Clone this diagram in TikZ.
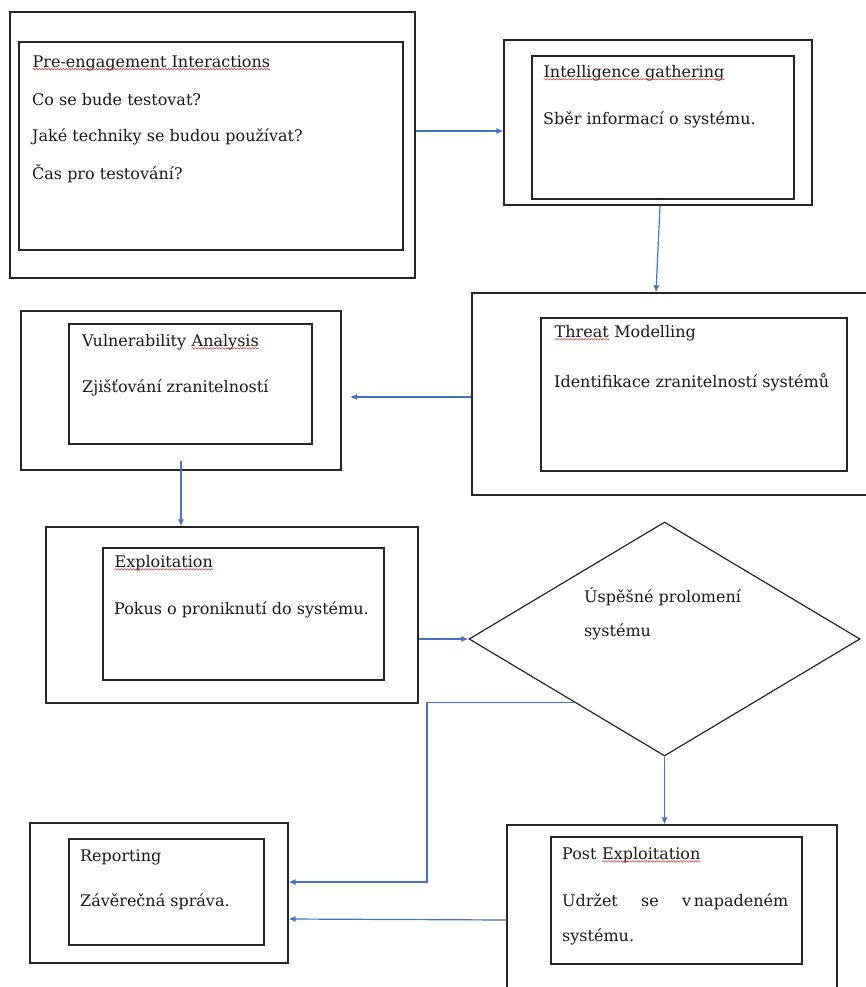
\documentclass[tikz,border=0pt]{standalone}
\usepackage{fontspec}
\setmainfont{DejaVu Serif}
\usetikzlibrary{arrows.meta,positioning,fit,calc,shapes.geometric,decorations.pathmorphing}
\definecolor{flow}{HTML}{4472C4}
\definecolor{spell}{HTML}{D9342B}
\newcommand{\squig}[1]{\tikz[baseline=(w.base)]{\node[inner sep=0pt,draw=none](w){#1};
  \draw[spell,line width=0.5pt,decorate,decoration={snake,amplitude=0.7pt,segment length=3pt}]
  ([yshift=-2pt]w.base west)--([yshift=-2pt]w.base east);}}
\begin{document}
\begin{tikzpicture}[x=1pt,y=-1pt,>={Latex[length=7pt,width=6pt]},
font=\fontsize{16}{19}\selectfont,
ob/.style={draw=black!85,line width=1.2pt,inner sep=0pt},
ib/.style={draw=black!85,line width=1.2pt,inner sep=0pt},
txt/.style={anchor=west,inner sep=0pt,text=black!90},
f/.style={->,line width=1.2pt,flow}]
\useasboundingbox (0,0) rectangle (866,987);
% stages
\node[ob,fit={(10,12)(415,278)}] (preOut) {};
\node[ib,fit={(19,42)(403,250)}] (preIn) {};
\node[ob,fit={(504,40)(812,205)}] (intOut) {};
\node[ib,fit={(532,56)(794,199)}] (intIn) {};
\node[ob,fit={(472,293)(880,495)}] (thrOut) {};
\node[ib,fit={(541,318)(847,471)}] (thrIn) {};
\node[ob,fit={(21,311)(341,470)}] (vulOut) {};
\node[ib,fit={(69,324)(312,444)}] (vulIn) {};
\node[ob,fit={(46,527)(418,703)}] (expOut) {};
\node[ib,fit={(103,548)(384,680)}] (expIn) {};
\node[draw=black!85,line width=1.2pt,diamond,inner sep=0pt,minimum width=391pt,minimum height=234pt] (dec) at (664.5,639) {};
\node[ob,fit={(30,823)(288,963)}] (repOut) {};
\node[ib,fit={(69,839)(264,945)}] (repIn) {};
\node[ob,fit={(507,825)(837,1000)}] (postOut) {};
\node[ib,fit={(551,837)(802,964)}] (postIn) {};
% texts
\node[txt] (preT) at (32,63) {\squig{Pre-engagement Interactions}};
\node[txt] (preA) at (32,100) {Co se bude testovat?};
\node[txt] (preB) at (32,137) {Jaké techniky se budou používat?};
\node[txt] (preC) at (32,174) {Čas pro testování?};
\node[txt] (intT) at (543,73) {\squig{Intelligence gathering}};
\node[txt] (intA) at (543,120) {Sběr informací o systému.};
\node[txt] (thrT) at (554,333) {\squig{Threat} Modelling};
\node[txt] (thrA) at (554,382) {Identifikace zranitelností systémů};
\node[txt] (vulT) at (82,342) {Vulnerability \squig{Analysis}};
\node[txt] (vulA) at (82,388) {Zjišťování zranitelností};
\node[txt] (expT) at (114,563) {\squig{Exploitation}};
\node[txt] (expA) at (114,610) {Pokus o proniknutí do systému.};
\node[txt,anchor=north west,align=left,font=\fontsize{16}{34}\selectfont] (decT) at (584,587) {Úspěšné prolomení\\systému};
\node[txt] (repT) at (80,857) {Reporting};
\node[txt] (repA) at (80,902) {Závěrečná správa.};
\node[txt] (postT) at (562,855) {Post \squig{Exploitation}};
\node[txt] (postA) at (562,902) {\makebox[226pt][s]{Udržet se v\,napadeném}};
\node[txt] (postB) at (562,937) {systému.};
% connectors
\coordinate (cut) at ($(dec.west)!0.54!(dec.south)$);
\coordinate (bend) at (cut -| 427,0);
\draw[f] (preOut.east |- 0,131) -- (intOut.west |- 0,131);
\draw[f] ([xshift=2pt]intOut.south) -- ([xshift=-2pt]thrOut.north -| intOut.south);
\draw[f] (thrOut.west |- 0,397) -- (350,397);
\draw[f] (vulOut.south |- 0,461) -- (vulOut.south |- expOut.north);
\draw[f] (expOut.east |- dec.west) -- (dec.west);
\draw[f] (cut) -- (bend) |- (repOut.east |- 0,882);
\draw[f] (dec.south) -- (dec.south |- postOut.north);
\draw[f] (postOut.west |- 0,920) -- (repOut.east |- 0,919);
\end{tikzpicture}
\end{document}
